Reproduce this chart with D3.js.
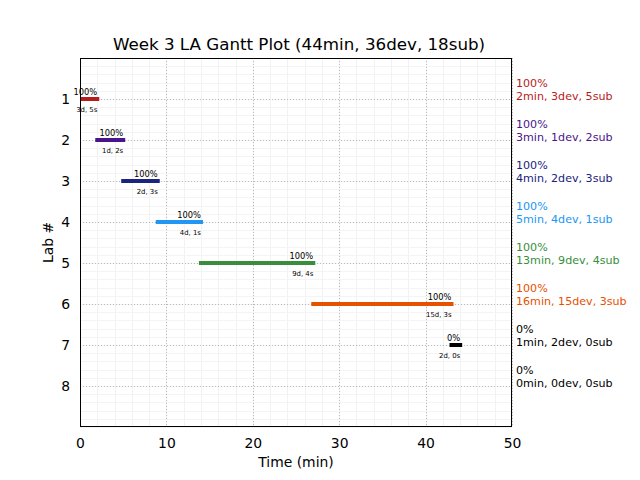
<!DOCTYPE html>
<html>
<head>
<meta charset="utf-8">
<script src="https://cdn.jsdelivr.net/npm/d3@7"></script>
<style>
  html, body { margin: 0; padding: 0; background: #fff; }
  svg { display: block; font-family: "DejaVu Sans", sans-serif; }
</style>
</head>
<body>
<svg id="chart" width="640" height="480"></svg>
<script>
// ---- data ----
const labs = [1, 2, 3, 4, 5, 6, 7, 8];
const durations = [2, 3, 4, 5, 13, 16, 1, 0];        // minutes
const devs = [3, 1, 2, 4, 9, 15, 2, 0];
const subs = [5, 2, 3, 1, 4, 3, 0, 0];
const percents = [100, 100, 100, 100, 100, 100, 0, 0];
const colors = ["#b71c1c", "#4a148c", "#1a237e", "#2196f3", "#388e3c", "#e65100", "#000000", "#000000"];
const xTicks = [0, 10, 20, 30, 40, 50];
const yTicks = [1, 2, 3, 4, 5, 6, 7, 8];
const title = "Week 3 LA Gantt Plot (44min, 36dev, 18sub)";

// ---- layout ----
const svg = d3.select("#chart");
const L = 80, R = 512, T = 58, B = 427;
const x = d3.scaleLinear().domain([0, 50]).range([L, R]);
const y = d3.scaleLinear().domain([0, 9]).range([T, B]);

svg.append("defs").append("clipPath").attr("id", "plotclip")
  .append("rect").attr("x", L).attr("y", T).attr("width", R - L).attr("height", B - T);

// start times (cumulative)
let acc = 0;
const starts = durations.map(d => { const s = acc; acc += d; return s; });

// minor grid
const g = svg.append("g");
g.selectAll(".mx").data(d3.range(0, 50.001, 2)).join("line")
  .attr("x1", d => Math.round(x(d)) + 0.5).attr("x2", d => Math.round(x(d)) + 0.5)
  .attr("y1", T).attr("y2", B).attr("stroke", "#f2f2f2").attr("stroke-width", 1);
g.selectAll(".my").data(d3.range(0, 9.001, 0.2)).join("line")
  .attr("y1", d => Math.round(y(d)) + 0.5).attr("y2", d => Math.round(y(d)) + 0.5)
  .attr("x1", L).attr("x2", R).attr("stroke", "#f4f4f4").attr("stroke-width", 1);

// major grid (dotted)
g.selectAll(".gx").data(xTicks).join("line")
  .attr("x1", d => Math.round(x(d)) + 0.5).attr("x2", d => Math.round(x(d)) + 0.5)
  .attr("y1", T).attr("y2", B).attr("stroke", "#bbbbbb").attr("stroke-width", 1)
  .attr("stroke-dasharray", "1,2");
g.selectAll(".gy").data(yTicks).join("line")
  .attr("y1", d => Math.round(y(d)) + 0.5).attr("y2", d => Math.round(y(d)) + 0.5)
  .attr("x1", L).attr("x2", R).attr("stroke", "#bbbbbb").attr("stroke-width", 1)
  .attr("stroke-dasharray", "1,2");

// bars
const barG = svg.append("g").attr("clip-path", "url(#plotclip)");
labs.forEach((lab, i) => {
  if (durations[i] <= 0) return;
  barG.append("line")
    .attr("x1", x(starts[i])).attr("x2", x(starts[i] + durations[i]))
    .attr("y1", y(lab)).attr("y2", y(lab))
    .attr("stroke", colors[i]).attr("stroke-width", 4)
    .attr("stroke-linecap", "square");
});

// frame
svg.append("rect").attr("x", L + 0.5).attr("y", T + 0.5)
  .attr("width", R - L - 1).attr("height", B - T - 1)
  .attr("fill", "none").attr("stroke", "#000").attr("stroke-width", 1);

// bar labels
labs.forEach((lab, i) => {
  if (durations[i] <= 0) return;
  const ex = x(starts[i] + durations[i]);
  svg.append("text").attr("x", ex).attr("y", y(lab) - 4)
    .attr("text-anchor", "end").attr("font-size", 8.3).attr("fill", "#000")
    .text(percents[i] + "%");
  svg.append("text").attr("x", ex).attr("y", y(lab) + 12.5)
    .attr("text-anchor", "end").attr("font-size", 6.9).attr("fill", "#000")
    .text(devs[i] + "d, " + subs[i] + "s");
});

// right-side labels
labs.forEach((lab, i) => {
  const t = svg.append("text").attr("font-size", 11.1).attr("fill", colors[i]);
  t.append("tspan").attr("x", 516).attr("y", y(lab) - 12).text(percents[i] + "%");
  t.append("tspan").attr("x", 516).attr("y", y(lab) + 0.5)
    .text(durations[i] + "min, " + devs[i] + "dev, " + subs[i] + "sub");
});

// axes tick labels
const xAxis = d3.axisBottom(x).tickValues(xTicks).tickSize(0).tickPadding(0);
const gx = svg.append("g").attr("transform", `translate(0,${B})`).call(xAxis);
gx.select(".domain").remove();
gx.selectAll("text").attr("font-size", 13.9).attr("font-family", "DejaVu Sans")
  .attr("fill", "#000").attr("dy", 0).attr("y", 21);

const yAxis = d3.axisLeft(y).tickValues(yTicks).tickSize(0).tickPadding(0);
const gy = svg.append("g").attr("transform", `translate(${L},0)`).call(yAxis);
gy.select(".domain").remove();
gy.selectAll("text").attr("font-size", 13.9).attr("font-family", "DejaVu Sans")
  .attr("fill", "#000").attr("x", -10).attr("dy", "0.35em");

// axis labels
svg.append("text").attr("x", (L + R) / 2).attr("y", 467).attr("text-anchor", "middle")
  .attr("font-size", 13.9).text("Time (min)");
svg.append("text").attr("transform", `translate(53,${(T + B) / 2}) rotate(-90)`)
  .attr("text-anchor", "middle").attr("font-size", 13.9).text("Lab #");

// title
svg.append("text").attr("x", 299).attr("y", 50).attr("text-anchor", "middle")
  .attr("font-size", 16.7).text(title);
</script>
</body>
</html>
